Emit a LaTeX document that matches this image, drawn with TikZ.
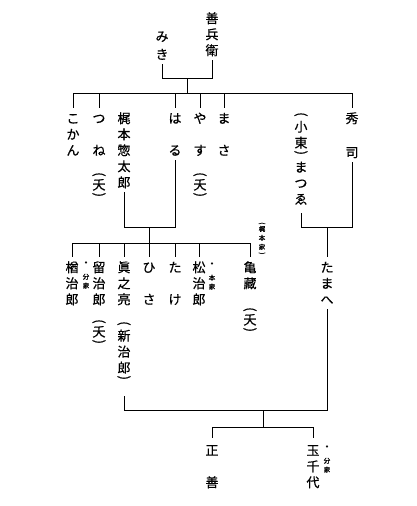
\documentclass[tikz,border=0pt]{standalone}
\usepackage{fontspec}
\usepackage{graphicx}
\newfontfamily\jp[FakeBold=0.5]{Noto Sans CJK JP}
\newcommand\ch[1]{\hbox to 14pt{\hss\vrule width0pt height11pt depth2pt\relax#1\hss}\vskip3pt}
\newcommand\gp{\vskip16pt}
\newcommand\lp{\hbox to 14pt{\hss\rotatebox{-90}{(}\hss}\vskip2pt}
\newcommand\rp{\hbox to 14pt{\hss\rotatebox{-90}{)}\hss}\vskip3pt}
\newcommand\V[1]{\vbox{\offinterlineskip#1}}
\newcommand\sch[1]{\hbox to 8pt{\hss\vrule width0pt height6pt depth1pt\relax#1\hss}\vskip2pt}
\newcommand\sdot{\hbox to 8pt{\hss\vrule width0pt height6pt depth1pt\relax{\fontsize{10}{10}\selectfont ・}\hss}\vskip2pt}
\newcommand\slp{\hbox to 8pt{\hss\rotatebox{-90}{(}\hss}\vskip1pt}
\newcommand\srp{\hbox to 8pt{\hss\rotatebox{-90}{)}\hss}}
\tikzset{
  nm/.style={anchor=north, inner sep=0pt, font=\jp\fontsize{13}{16}\selectfont},
  sm/.style={anchor=north, inner sep=0pt, font=\jp\fontsize{6.5}{8}\selectfont},
  ln/.style={line width=1pt},
  tk/.style={ln, shorten >=4pt}
}
\begin{document}
\begin{tikzpicture}[x=1pt,y=-1pt]
\fill[white] (0,0) rectangle (416,506);
\useasboundingbox (0,0) rectangle (416,506);
% generation 1
\node[nm] (zen) at (212,12) {\V{\ch{善}\ch{兵}\ch{衛}}};
\node[nm] (miki) at (162,30) {\V{\ch{み}\vskip2pt\ch{き}}};
% generation 2
\node[nm] (kokan) at (73,112) {\V{\ch{こ}\ch{か}\ch{ん}}};
\node[nm] (tsune) at (99,112) {\V{\ch{つ}\gp\ch{ね}\vskip12pt\lp\ch{夭}\vskip-2pt\rp}};
\node[nm] (sotaro) at (124,112) {\V{\ch{梶}\ch{本}\ch{惣}\ch{太}\ch{郎}}};
\node[nm] (haru) at (175,112) {\V{\ch{は}\gp\ch{る}}};
\node[nm] (yasu) at (200,112) {\V{\ch{や}\gp\ch{す}\vskip12pt\lp\ch{夭}\vskip-2pt\rp}};
\node[nm] (masa) at (224,112) {\V{\ch{ま}\gp\ch{さ}}};
\node[nm] (matsue) at (301,112) {\V{\lp\vskip2pt\ch{小}\ch{東}\vskip-2pt\rp\vskip3pt\ch{ま}\ch{つ}\ch{ゑ}}};
\node[nm] (hideji) at (352,112) {\V{\ch{秀}\vskip18pt\ch{司}}};
% generation 3
\node[nm] (nara) at (72,261) {\V{\ch{楢}\ch{治}\ch{郎}}};
\node[nm] (tome) at (99,261) {\V{\ch{留}\ch{治}\ch{郎}\vskip10pt\lp\ch{夭}\vskip-2pt\rp}};
\node[nm] (shin) at (124,261) {\V{\ch{眞}\ch{之}\ch{亮}\vskip12pt\lp\vskip2pt\ch{新}\ch{治}\ch{郎}\vskip-2pt\rp}};
\node[nm] (hisa) at (149,261) {\V{\ch{ひ}\gp\ch{さ}}};
\node[nm] (take) at (175,261) {\V{\ch{た}\gp\ch{け}}};
\node[nm] (matsuji) at (199,261) {\V{\ch{松}\ch{治}\ch{郎}}};
\node[nm] (kame) at (250,261) {\V{\ch{亀}\ch{藏}\vskip14pt\lp\ch{夭}\vskip-2pt\rp}};
\node[nm] (tamahe) at (327,261) {\V{\ch{た}\ch{ま}\ch{へ}}};
% generation 4
\node[nm] (masayoshi) at (212,444) {\V{\ch{正}\gp\ch{善}}};
\node[nm] (tamachiyo) at (313,444) {\V{\ch{玉}\ch{千}\ch{代}}};
% small notes
\node[sm] (naraN) at (86,260) {\V{\sdot\vskip4pt\sch{分}\sch{家}}};
\node[sm] (matsujiN) at (212,261) {\V{\sdot\vskip4pt\sch{本}\sch{家}}};
\node[sm] (tamachiyoN) at (327,444) {\V{\sdot\vskip4pt\sch{分}\sch{家}}};
\node[sm] (kajimoto) at (262,222) {\V{\slp\sch{梶}\sch{本}\sch{家}\srp}};
% connectors
\coordinate (j1) at (187,78);
\coordinate (b2) at (187,93);
\coordinate (j3) at (149,227);
\coordinate (b3) at (149,243);
\coordinate (j4) at (327,227);
\coordinate (b5) at (263,410);
\coordinate (b6) at (263,427);
\draw[ln] (zen.south) -- (zen.south |- j1) -- (miki.south |- j1) -- (miki.south);
\draw[ln] (j1) -- (b2);
\draw[ln] (kokan.north |- b2) -- (hideji.north |- b2);
\foreach \n in {kokan,tsune,haru,yasu,masa,hideji} \draw[tk] (\n.north |- b2) -- (\n.north);
\draw[ln] (sotaro.south) -- (sotaro.south |- j3) -- (haru.south |- j3) -- (haru.south);
\draw[ln] (j3) -- (b3);
\draw[ln] (nara.north |- b3) -- (kame.north |- b3);
\foreach \n in {nara,tome,shin,hisa,take,matsuji,kame} \draw[tk] (\n.north |- b3) -- (\n.north);
\draw[ln, shorten <=4pt] (matsue.south) -- (matsue.south |- j4) -- (hideji.south |- j4) -- (hideji.south);
\draw[tk] (j4) -- (tamahe.north);
\draw[ln, shorten >=13pt] (tamahe.south) -- (tamahe.south |- b5) -- (shin.south |- b5) -- (shin.south);
\draw[ln] (b5) -- (b6);
\draw[ln] (masayoshi.north |- b6) -- (tamachiyo.north |- b6);
\foreach \n in {masayoshi,tamachiyo} \draw[ln, shorten >=6pt] (\n.north |- b6) -- (\n.north);
\end{tikzpicture}
\end{document}
